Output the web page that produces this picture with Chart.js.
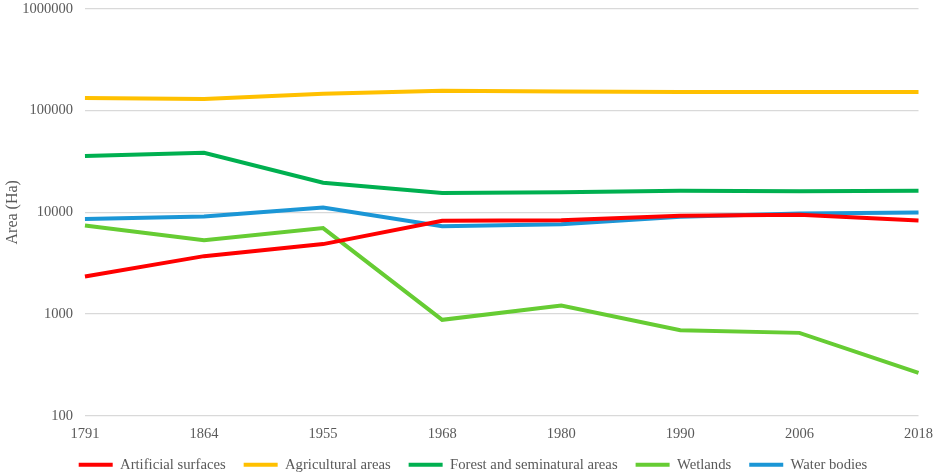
<!DOCTYPE html>
<html>
<head>
<meta charset="utf-8">
<script src="https://cdn.jsdelivr.net/npm/chart.js@4/dist/chart.umd.min.js"></script>
<style>
  html, body { margin: 0; padding: 0; background: #fff; overflow: hidden; }
  #wrap { position: relative; left: -15px; width: 958px; height: 482px; }
</style>
</head>
<body>
<div id="wrap"><canvas id="landChart"></canvas></div>
<script>
// Years on the x axis
const years = ["1791", "1864", "1955", "1968", "1980", "1990", "2006", "2018"];

// Area in hectares
const artificial = [2340, 3710, 4870, 8250, 8350, 9240, 9450, 8300];
const agricultural = [133000, 130000, 146000, 156000, 154000, 152000, 152000, 152000];
const forest = [35700, 38400, 19500, 15500, 15700, 16300, 16100, 16300];
const wetlands = [7420, 5330, 7000, 878, 1214, 695, 654, 265];
const water = [8570, 9100, 11150, 7310, 7650, 9030, 9730, 9950];

// Log axis ticks
const yTicks = [100, 1000, 10000, 100000, 1000000];

const serif = "'Liberation Serif', 'Times New Roman', serif";
Chart.defaults.font.family = serif;
Chart.defaults.color = "#595959";

function series(label, data, color) {
  return {
    label: label,
    data: data,
    borderColor: color,
    backgroundColor: color,
    borderWidth: 4,
    pointRadius: 0,
    tension: 0,
    fill: false,
  };
}

const ctx = document.getElementById("landChart").getContext("2d");
const landChart = new Chart(ctx, {
  type: "line",
  data: {
    labels: years,
    datasets: [
      series("Artificial surfaces", artificial, "#FF0000"),
      series("Agricultural areas", agricultural, "#FFC000"),
      series("Forest and seminatural areas", forest, "#00B050"),
      series("Wetlands", wetlands, "#66CC33"),
      series("Water bodies", water, "#1B96D6"),
    ],
  },
  options: {
    responsive: true,
    maintainAspectRatio: false,
    animation: false,
    layout: { padding: { top: 0, right: 0, left: 18, bottom: 0 } },
    scales: {
      x: {
        offset: false,
        grid: { display: false, drawTicks: false },
        border: { display: false },
        ticks: { font: { size: 14.5 }, padding: 10, maxRotation: 0 },
        // pull the legend up closer to the year labels
        afterFit: (scale) => {
          scale.height -= 14;
        },
      },
      y: {
        type: "logarithmic",
        min: 100,
        max: 1000000,
        afterBuildTicks: (axis) => {
          axis.ticks = yTicks.map((v) => ({ value: v }));
        },
        ticks: {
          font: { size: 14.5 },
          padding: 0,
          callback: (v) => String(v),
        },
        grid: {
          color: "#D9D9D9",
          lineWidth: 1.3,
          drawTicks: true,
          tickLength: 12,
          tickColor: "rgba(0,0,0,0)",
        },
        border: { display: false },
        title: {
          display: true,
          text: "Area (Ha)",
          font: { size: 16 },
          padding: { top: 0, bottom: 0 },
        },
      },
    },
    plugins: {
      legend: {
        position: "bottom",
        labels: {
          usePointStyle: true,
          pointStyle: "line",
          pointStyleWidth: 34,
          boxHeight: 15,
          padding: 18,
          font: { size: 14.7 },
        },
      },
      tooltip: { enabled: false },
    },
  },
});
</script>
</body>
</html>
